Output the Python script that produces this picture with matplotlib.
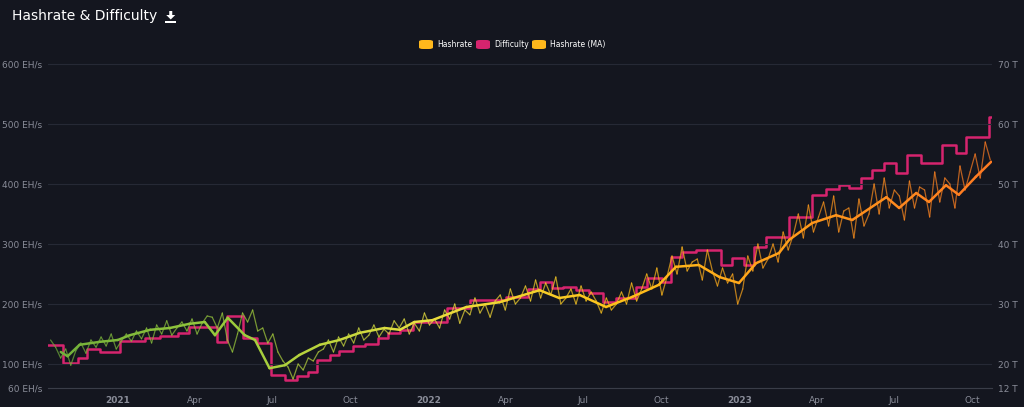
import matplotlib
matplotlib.use("Agg")
import matplotlib.pyplot as plt
import matplotlib.dates as mdates
import numpy as np
import pandas as pd
from matplotlib.collections import LineCollection
from matplotlib.patches import FancyBboxPatch, Polygon, Rectangle
from matplotlib.colors import LinearSegmentedColormap

# ---- data ----
ma_dates = ["2020-10-26","2020-11-03","2020-11-17","2020-12-11","2021-01-01","2021-01-15","2021-02-08",
            "2021-03-03","2021-03-26","2021-04-13","2021-04-25","2021-05-10","2021-05-30","2021-06-11",
            "2021-06-28","2021-07-16","2021-08-02","2021-08-26","2021-09-18","2021-10-12","2021-11-10",
            "2021-11-28","2021-12-15","2022-01-05","2022-02-14","2022-03-25","2022-05-11","2022-06-03",
            "2022-06-27","2022-07-28","2022-08-28","2022-09-28","2022-10-18","2022-11-14","2022-12-08",
            "2022-12-31","2023-01-20","2023-02-16","2023-02-28","2023-03-27","2023-04-24","2023-05-13",
            "2023-06-22","2023-07-07","2023-07-27","2023-08-11","2023-08-31","2023-09-15","2023-10-05",
            "2023-10-23"]
ma_values = [120,113,132,137,140,148,157,160,167,170,148,177,148,140,93,98,115,132,140,152,160,157,170,
             173,195,203,223,210,215,195,212,232,262,265,245,235,268,285,307,335,348,340,378,360,385,370,
             398,382,412,437]

diff_dates = ["2020-10-11","2020-10-29","2020-11-15","2020-11-26","2020-12-11","2021-01-03","2021-02-02",
              "2021-02-19","2021-03-12","2021-03-26","2021-04-27","2021-05-09","2021-05-28","2021-06-13",
              "2021-06-30","2021-07-16","2021-07-30","2021-08-12","2021-08-23","2021-09-07","2021-09-18",
              "2021-10-04","2021-10-18","2021-11-02","2021-11-14","2021-11-28","2021-12-13","2022-01-22",
              "2022-02-18","2022-04-02","2022-04-27","2022-05-11","2022-05-26","2022-06-07","2022-06-23",
              "2022-07-08","2022-07-24","2022-08-09","2022-09-01","2022-09-14","2022-10-02","2022-10-12",
              "2022-10-25","2022-11-11","2022-12-10","2022-12-23","2023-01-06","2023-01-18","2023-02-01",
              "2023-02-28","2023-03-27","2023-04-12","2023-04-27","2023-05-09","2023-05-23","2023-06-05",
              "2023-06-19","2023-07-03","2023-07-16","2023-08-02","2023-08-26","2023-09-12","2023-09-23",
              "2023-10-20","2023-10-23"]
diff_values = [23.2,20.2,21.0,22.5,22.0,23.8,24.3,24.7,25.2,26.2,23.7,28.0,24.3,23.5,18.2,17.3,18.0,18.7,
               20.7,21.5,22.2,23.0,23.3,24.3,25.2,25.7,27.0,29.3,30.7,31.2,32.5,33.7,32.7,32.8,32.3,31.8,
               30.3,31.0,32.8,34.3,33.7,37.8,38.7,39.0,36.5,37.7,36.5,39.5,41.2,44.5,48.2,49.2,49.8,49.3,
               51.0,52.3,53.5,51.8,54.8,53.5,56.5,55.2,57.8,61.2,61.2]

hash_values = [140,128,110,125,98,122,135,118,140,128,
               145,130,150,125,138,
               150,138,155,142,160,135,
               165,150,172,148,160,
               170,155,175,150,168,180,
               178,160,185,140,120,150,
               185,170,190,155,160,135,
               150,120,105,95,75,
               100,90,110,105,120,
               125,140,120,145,130,
               150,135,160,140,148,
               165,145,158,150,172,
               160,175,150,168,155,
               185,165,175,160,190,
               175,200,168,190,182,
               210,185,200,178,205,
               215,190,225,200,210,
               230,205,240,210,
               235,215,245,200,210,
               225,200,230,205,220,
               205,185,210,190,200,
               220,200,235,205,225,
               250,225,260,215,245,
               280,250,295,255,270,
               275,240,290,255,230,
               260,235,250,200,225,
               280,255,300,260,275,
               300,270,320,290,315,
               350,310,365,320,345,
               370,330,380,320,355,
               360,310,375,330,350,
               400,350,410,360,390,
               380,340,405,360,395,
               390,345,420,370,410,
               400,360,430,390,420,
               450,410,470,440]
hash_start, hash_end = "2020-10-14", "2023-10-22"

left_ticks = [60, 100, 200, 300, 400, 500, 600]
right_ticks = [20, 30, 40, 50, 60, 70]

# ---- style ----
BG = "#14161f"
TXT = "#8a8d99"
cmap = LinearSegmentedColormap.from_list("g", ["#6fae3a", "#9ccc3c", "#e8e040", "#ffc21a", "#ff9a1a", "#ff7a22"])

fig = plt.figure(figsize=(10.24, 4.07), dpi=100, facecolor=BG)
ax = fig.add_axes([48/1024, 1-388/407, (992-48)/1024, (388-58)/407])
ax.set_facecolor(BG)
ax2 = ax.twinx()

x0 = mdates.date2num(pd.Timestamp("2020-10-11"))
x1 = mdates.date2num(pd.Timestamp("2023-10-24"))
norm = plt.Normalize(x0, x1)

def grad_line(axis, xs, ys, lw, alpha):
    pts = np.column_stack([xs, ys]).reshape(-1, 1, 2)
    segs = np.concatenate([pts[:-1], pts[1:]], axis=1)
    lc = LineCollection(segs, colors=cmap(norm((xs[:-1] + xs[1:]) / 2)), linewidths=lw, alpha=alpha,
                        capstyle="round", joinstyle="round")
    axis.add_collection(lc)

hx = mdates.date2num(pd.date_range(hash_start, hash_end, periods=len(hash_values)))
grad_line(ax, hx, np.array(hash_values, float), 0.9, 0.7)

ddx = mdates.date2num(pd.to_datetime(diff_dates))
ax2.step(ddx, diff_values, where="post", color="#d6246e", lw=1.8, zorder=3)

mx = mdates.date2num(pd.to_datetime(ma_dates))
grad_line(ax, mx, np.array(ma_values, float), 1.8, 1.0)
ax.set_zorder(ax2.get_zorder() + 1)
ax.patch.set_visible(False)
ax2.patch.set_visible(False)

ax.set_xlim(x0, x1)
ax.set_ylim(60, 610)
ax2.set_ylim(16, 71)

ax.set_yticks(left_ticks)
ax.set_yticklabels([f"{v} EH/s" for v in left_ticks])
ax2.set_yticks([16] + right_ticks)
ax2.set_yticklabels(["12 T"] + [f"{v} T" for v in right_ticks])
for a in (ax, ax2):
    a.tick_params(axis="y", length=0, labelsize=6.5, labelcolor=TXT, pad=4)
    for s in a.spines.values():
        s.set_visible(False)
ax.grid(axis="y", color="#262935", lw=0.8)
ax.spines["bottom"].set_visible(True)
ax.spines["bottom"].set_color("#3a3d48")

ax.xaxis.set_major_locator(mdates.MonthLocator(bymonth=[1, 4, 7, 10]))
def fmt(x, pos):
    d = mdates.num2date(x)
    return str(d.year) if d.month == 1 else d.strftime("%b")
ax.xaxis.set_major_formatter(plt.FuncFormatter(fmt))
ax.tick_params(axis="x", length=0, labelsize=6.5, labelcolor=TXT, pad=6)
for lab in ax.get_xticklabels():
    if lab.get_text().isdigit():
        lab.set_fontweight("bold")

W, H = 1024, 407
title = fig.text(12/W, 1-16/H, "Hashrate & Difficulty", color="white", fontsize=10, va="center")
fig.canvas.draw()
tx = title.get_window_extent().x1 + 9
def P(x, y):
    return (x / W, 1 - y / H)
fig.patches.append(Polygon([P(tx+3, 11), P(tx+6, 11), P(tx+6, 15), P(tx+9, 15), P(tx+4.5, 19.5), P(tx, 15), P(tx+3, 15)],
                           closed=True, transform=fig.transFigure, facecolor="white", edgecolor="none"))
fig.patches.append(Rectangle(P(tx-1, 23), 11/W, 2.2/H, transform=fig.transFigure, facecolor="white", edgecolor="none"))

# legend
items = [("Hashrate", "#ffb81c", 419), ("Difficulty", "#d6246e", 476), ("Hashrate (MA)", "#ffb81c", 532)]
for label, col, px in items:
    fig.patches.append(FancyBboxPatch((px/W, 1-49/H), 14/W, 9/H, boxstyle="round,pad=0,rounding_size=0.004",
                                      transform=fig.transFigure, facecolor=col, edgecolor="none"))
    fig.text((px+18)/W, 1-44.5/H, label, color="white", fontsize=5.5, va="center")

fig.savefig("out.png", dpi=100, facecolor=BG)
